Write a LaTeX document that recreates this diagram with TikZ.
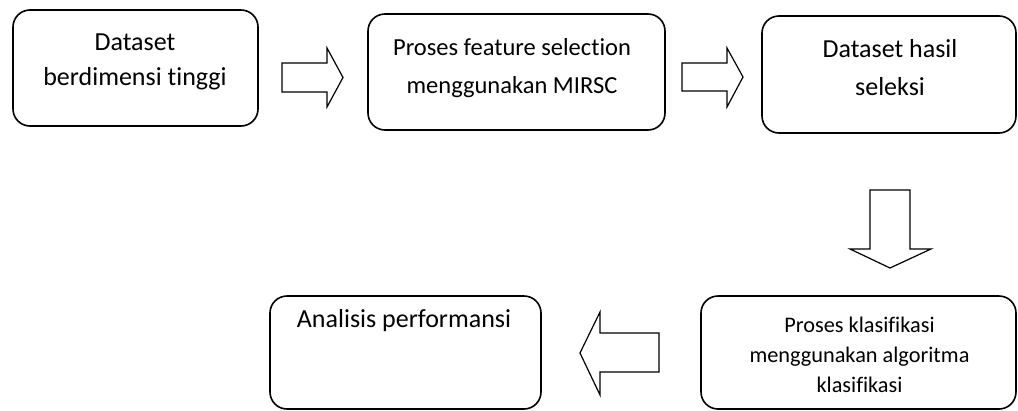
\documentclass[tikz,border=0pt]{standalone}
\usepackage{fontspec}
\setmainfont[Ligatures={NoCommon}]{Carlito}
\begin{document}
\begin{tikzpicture}[x=1pt,y=-1pt,
  box/.style={draw=black,line width=1.6pt,rounded corners=17pt,inner sep=0pt,fill=none},
  blockarrow/.style={draw=black,line width=1.2pt,line join=miter,fill=white},
  txt/.style={anchor=base,inner sep=0pt},
  big/.style={font=\fontsize{26}{36}\selectfont},
  mid/.style={font=\fontsize{24.5}{36}\selectfont},
  small/.style={font=\fontsize{22.3}{30}\selectfont}]
\useasboundingbox (0,0) rectangle (1018,410);
% boxes
\node[box,minimum width=245pt,minimum height=116pt] (b1) at (135.5,68) {};
\node[box,minimum width=297pt,minimum height=116pt] (b2) at (516.5,72) {};
\node[box,minimum width=254pt,minimum height=117pt] (b3) at (889,74.5) {};
\node[box,minimum width=315pt,minimum height=113pt] (b4) at (858.5,352.5) {};
\node[box,minimum width=271pt,minimum height=113pt] (b5) at (405.5,352.5) {};
% texts
\node[txt,big] (t1a) at (135,50) {Dataset};
\node[txt,big] (t1b) at (135,85) {berdimensi tinggi};
\node[txt,mid] (t2a) at (512,55) {Proses feature selection};
\node[txt,mid] (t2b) at (512,93) {menggunakan MIRSC};
\node[txt,big] (t3a) at (890,57) {Dataset hasil};
\node[txt,big] (t3b) at (890,95) {seleksi};
\node[txt,small] (t4a) at (859.5,332) {Proses klasifikasi};
\node[txt,small] (t4b) at (859.5,362) {menggunakan algoritma};
\node[txt,small] (t4c) at (859.5,392) {klasifikasi};
\node[txt,big] (t5) at (404,327) {Analisis performansi};
% block arrows
\draw[blockarrow] (282,63) -- (327,63) -- (327,48) -- (343,77.5) -- (327,107) -- (327,92) -- (282,92) -- cycle;
\draw[blockarrow] (682,63) -- (727,63) -- (727,48) -- (743,77) -- (727,107) -- (727,91) -- (682,91) -- cycle;
\draw[blockarrow] (870,190) -- (910,190) -- (910,249) -- (931,249) -- (890,268) -- (850,249) -- (870,249) -- cycle;
\draw[blockarrow] (659,333) -- (600,333) -- (600,312) -- (580,353) -- (600,395) -- (600,372) -- (659,372) -- cycle;
\end{tikzpicture}
\end{document}
